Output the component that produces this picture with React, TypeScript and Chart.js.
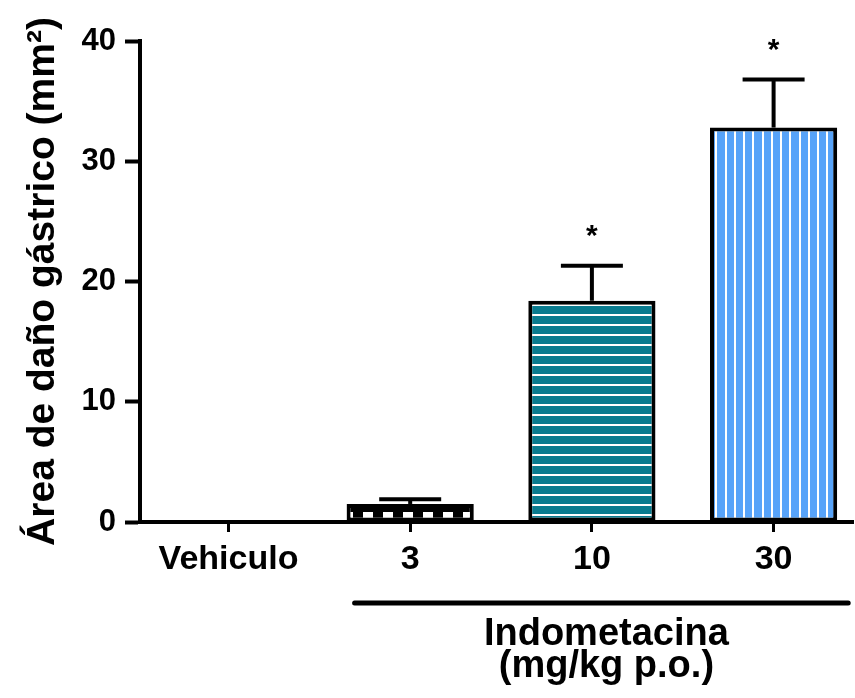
import { useEffect, useRef } from "react";
import { Chart, registerables } from "chart.js";

Chart.register(...registerables);

const categories = ["Vehiculo", "3", "10", "30"];
const means = [0, 1.5, 18.4, 32.8];
const sems = [0, 0.4, 2.9, 4.0];
const significant = [false, false, true, true];
const yTicks = [0, 10, 20, 30, 40];
const groupLines = ["Indometacina", "(mg/kg p.o.)"];
const groupRange = [1, 3];
const yTitle = "Área de daño gástrico (mm²)";

const FONT = '"Liberation Sans", Arial, sans-serif';

function makePattern(kind: string): CanvasPattern | string {
  const c = document.createElement("canvas");
  const g = c.getContext("2d")!;
  if (kind === "checker") {
    c.width = 20;
    c.height = 20;
    g.fillStyle = "#000";
    g.fillRect(0, 0, 20, 20);
    g.fillStyle = "#fff";
    g.fillRect(3, 12, 10, 8);
  } else if (kind === "hlines") {
    c.width = 10;
    c.height = 10;
    g.fillStyle = "#087b8f";
    g.fillRect(0, 0, 10, 10);
    g.fillStyle = "#ffffff";
    g.fillRect(0, 4, 10, 2);
  } else {
    c.width = 37;
    c.height = 10;
    g.fillStyle = "#57a3f9";
    g.fillRect(0, 0, 37, 10);
    g.fillStyle = "#ffffff";
    [3, 12, 22, 31].forEach((px) => g.fillRect(px, 0, 2, 10));
  }
  return g.createPattern(c, "repeat") || "#000";
}

const annotPlugin = {
  id: "annot",
  afterDatasetsDraw(chart: any) {
    const { ctx, scales } = chart;
    const x = scales.x;
    const y = scales.y;
    ctx.save();
    ctx.strokeStyle = "#000";
    ctx.fillStyle = "#000";
    ctx.lineWidth = 4;
    means.forEach((m, i) => {
      if (!sems[i]) return;
      const cx = x.getPixelForValue(i);
      const top = y.getPixelForValue(m + sems[i]);
      const base = y.getPixelForValue(m);
      ctx.beginPath();
      ctx.moveTo(cx, base);
      ctx.lineTo(cx, top);
      ctx.stroke();
      ctx.beginPath();
      ctx.moveTo(cx - 31, top);
      ctx.lineTo(cx + 31, top);
      ctx.stroke();
      if (significant[i]) {
        ctx.font = `bold 30px ${FONT}`;
        ctx.textAlign = "center";
        ctx.textBaseline = "alphabetic";
        ctx.fillText("*", cx, top - 38 + 0.57 * 30);
      }
    });
    const meta = chart.getDatasetMeta(0);
    const b0 = meta.data[groupRange[0]];
    const b1 = meta.data[groupRange[1]];
    const x0 = b0.x - b0.width / 2 + 8;
    const x1 = b1.x + b1.width / 2 + 11;
    const by = chart.chartArea.bottom + 81;
    ctx.lineWidth = 5;
    ctx.lineCap = "round";
    ctx.beginPath();
    ctx.moveTo(x0, by);
    ctx.lineTo(x1, by);
    ctx.stroke();
    ctx.font = `bold 38px ${FONT}`;
    ctx.textAlign = "center";
    ctx.textBaseline = "alphabetic";
    const tx = (x0 + x1) / 2 + 5;
    ctx.fillText(groupLines[0], tx, by + 42);
    ctx.fillText(groupLines[1], tx, by + 74);
    ctx.restore();
  },
};

export default function App() {
  const ref = useRef<HTMLCanvasElement>(null);
  useEffect(() => {
    document.body.style.margin = "0";
    const bg = [makePattern("none"), makePattern("checker"), makePattern("hlines"), makePattern("vlines")];
    const chart = new Chart(ref.current!, {
      type: "bar",
      data: {
        datasets: [
          {
            data: means.map((v, i) => ({ x: i, y: v })),
            backgroundColor: bg,
            borderColor: "#000",
            borderWidth: 4,
            borderSkipped: false,
            categoryPercentage: 1,
            barPercentage: 0.7,
          } as any,
        ],
      },
      options: {
        animation: false,
        responsive: false,
        devicePixelRatio: 1,
        layout: { padding: { top: 41, right: 2, bottom: 0, left: 0 } },
        plugins: { legend: { display: false }, tooltip: { enabled: false } },
        scales: {
          x: {
            type: "linear",
            offset: false,
            min: -0.487,
            max: 3.437,
            afterFit: (s: any) => {
              s.height = 176;
              s.paddingLeft = 0;
              s.paddingRight = 0;
            },
            afterBuildTicks: (s: any) => {
              s.ticks = categories.map((_, i) => ({ value: i }));
            },
            ticks: {
              callback: (v: any) => categories[v] ?? "",
              font: { family: FONT, size: 34, weight: "bold" },
              color: "#000",
              padding: 7,
              maxRotation: 0,
              autoSkip: false,
            },
            grid: { offset: false, drawOnChartArea: false, drawTicks: true, tickLength: 10, tickWidth: 3, tickColor: "#000" },
            border: { display: true, color: "#000", width: 4 },
          },
          y: {
            min: 0,
            max: 40,
            afterFit: (s: any) => {
              s.width = 140;
            },
            afterBuildTicks: (s: any) => {
              s.ticks = yTicks.map((v) => ({ value: v }));
            },
            ticks: {
              font: { family: FONT, size: 31, weight: "bold" },
              color: "#000",
              padding: 9,
            },
            grid: { drawOnChartArea: false, drawTicks: true, tickLength: 15, tickWidth: 4, tickColor: "#000" },
            border: { display: true, color: "#000", width: 4 },
            title: {
              display: true,
              text: yTitle,
              color: "#000",
              font: { family: FONT, size: 39, weight: "bold" },
              padding: { top: 20, bottom: 0 },
            },
          },
        },
      },
      plugins: [annotPlugin],
    } as any);
    return () => chart.destroy();
  }, []);
  return (
    <div style={{ width: 855, height: 698, background: "#fff" }}>
      <canvas ref={ref} width={855} height={698} style={{ display: "block" }} />
    </div>
  );
}
